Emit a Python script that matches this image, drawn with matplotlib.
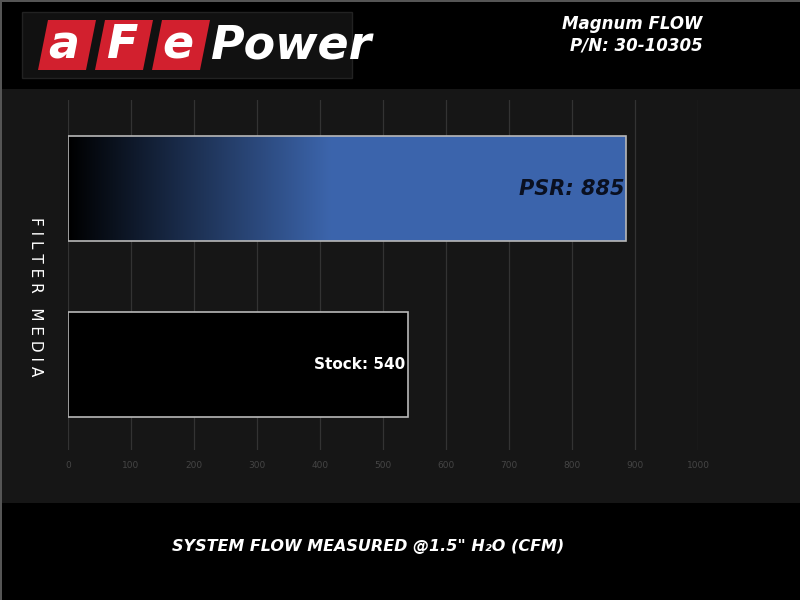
import numpy as np
import matplotlib
matplotlib.use("Agg")
import matplotlib.pyplot as plt
from matplotlib.patches import Rectangle, Polygon

# data
categories = ["Stock", "PSR"]
flow_cfm = [540, 885]
bar_labels = ["Stock: 540", "PSR: 885"]
xticks = [0, 100, 200, 300, 400, 500, 600, 700, 800, 900, 1000]
title_lines = ["Magnum FLOW", "P/N: 30-10305"]
xlabel = 'SYSTEM FLOW MEASURED @1.5" H\u2082O (CFM)'
ylabel = "F I L T E R   M E D I A"

W, H = 800, 600
fig = plt.figure(figsize=(8, 6), dpi=100, facecolor="black")

def fx(px):
    return px / W

def fy(py):
    return 1 - py / H

# dark panel behind plot area
fig.patches.append(Rectangle((0, fy(503)), 1, fy(89) - fy(503), transform=fig.transFigure,
                             facecolor="#161616", edgecolor="none", zorder=-2))
# thin grey frame on top/left
fig.patches.append(Rectangle((0, 0), fx(2), 1, transform=fig.transFigure,
                             facecolor="#555555", edgecolor="none", zorder=-1))
fig.patches.append(Rectangle((0, fy(2)), 1, fy(0) - fy(2), transform=fig.transFigure,
                             facecolor="#555555", edgecolor="none", zorder=-1))

ax = fig.add_axes([fx(68), fy(450), fx(698) - fx(68), fy(100) - fy(450)])
ax.set_zorder(5)
ax.set_facecolor("none")
ax.set_xlim(0, 1000)
ax.set_ylim(-0.486, 1.503)
for s in ax.spines.values():
    s.set_visible(False)
ax.set_xticks(xticks)
ax.set_xticklabels([str(t) for t in xticks])
ax.tick_params(axis="x", length=0, pad=8, labelsize=6.5, labelcolor="#454545")
ax.set_yticks([])
ax.grid(axis="x", color="#333333", linewidth=0.9)
ax.set_axisbelow(True)

ypos = np.arange(len(categories))
bh = 0.597
bars = ax.barh(ypos, flow_cfm, height=bh, color=["black", "none"],
               edgecolor="#b8b8b8", linewidth=1.2, zorder=3)

# gradient fill for PSR bar
grad = np.linspace(0, 1, 256)
ramp = np.clip(grad / 0.47, 0, 1)
blue = np.array([0.235, 0.396, 0.675])
img = (ramp[:, None] * blue[None, :])[None, :, :]
im = ax.imshow(img, extent=[0, flow_cfm[1], ypos[1] - bh / 2, ypos[1] + bh / 2],
               aspect="auto", zorder=2.5, interpolation="bicubic")
im.set_clip_path(bars[1])

ax.text(flow_cfm[0] - 5, ypos[0], bar_labels[0], ha="right", va="center",
        color="white", fontsize=11, fontweight="bold", zorder=4)
ax.text(flow_cfm[1] - 2, ypos[1], bar_labels[1], ha="right", va="center",
        color="#0a1020", fontsize=15, fontweight="bold", fontstyle="italic", zorder=4)

# header logo
fig.patches.append(Rectangle((fx(22), fy(78)), fx(330), fy(12) - fy(78),
                             transform=fig.transFigure, facecolor="#111111",
                             edgecolor="#222222", zorder=1))
for x0 in [38, 95, 152]:
    pts = [(fx(x0 + 10), fy(20)), (fx(x0 + 58), fy(20)), (fx(x0 + 48), fy(70)), (fx(x0), fy(70))]
    fig.patches.append(Polygon(pts, closed=True, transform=fig.transFigure,
                               facecolor="#d2202e", edgecolor="none", zorder=2))
for x0, ch in zip([48, 106, 162], "aFe"):
    fig.text(fx(x0), fy(46), ch, color="white", fontsize=33, fontweight="bold",
             fontstyle="italic", va="center", ha="left", zorder=3)
fig.text(fx(210), fy(46), "Power", color="white", fontsize=33, fontweight="bold",
         fontstyle="italic", va="center", ha="left", zorder=3)

fig.text(fx(632), fy(24), title_lines[0], color="white", fontsize=12, fontweight="bold",
         fontstyle="italic", ha="center", va="center")
fig.text(fx(636), fy(45), title_lines[1], color="white", fontsize=12, fontweight="bold",
         fontstyle="italic", ha="center", va="center")

fig.text(fx(368), fy(546), xlabel, color="white", fontsize=11.5, fontweight="bold",
         fontstyle="italic", ha="center", va="center")
fig.text(fx(35), fy(297), ylabel, color="white", fontsize=11, rotation=270,
         ha="center", va="center")

fig.savefig("out.png", dpi=100, facecolor=fig.get_facecolor())
